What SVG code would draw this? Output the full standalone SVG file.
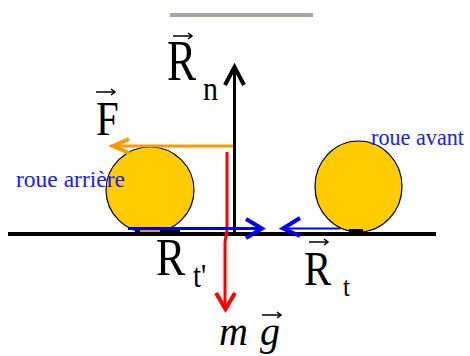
<svg xmlns="http://www.w3.org/2000/svg" width="470" height="356" viewBox="0 0 470 356">
<defs>
  <symbol id="vecarrow" overflow="visible">
    <line x1="0" y1="0" x2="19" y2="0" stroke="#000" stroke-width="1.5"/>
    <polyline points="15,-3 19,0 15,3" fill="none" stroke="#000" stroke-width="1.5"/>
  </symbol>
</defs>
<rect width="470" height="356" fill="#fff"/>
<rect x="170" y="13" width="143" height="4" fill="#a9a598"/>

<g id="wheel-rear">
  <ellipse cx="150" cy="190" rx="44" ry="43" fill="#ffcc00" stroke="#000" stroke-width="1.2"/>
  <rect x="135" y="229" width="45" height="4" fill="#000"/>
  <rect x="140" y="230" width="20" height="2" fill="#e0a000"/>
  <text font-family="Times New Roman" font-size="24" fill="#1a1aff" x="16" y="187" textLength="109" lengthAdjust="spacingAndGlyphs">roue arrière</text>
</g>
<g id="wheel-front">
  <ellipse cx="358.5" cy="186.5" rx="43.5" ry="45.5" fill="#ffcc00" stroke="#000" stroke-width="1.2"/>
  <rect x="349" y="229" width="14" height="4" fill="#000"/>
  <text font-family="Times New Roman" font-size="23" fill="#1a1aff" x="371" y="145" textLength="93" lengthAdjust="spacingAndGlyphs">roue avant</text>
</g>
<g id="ground">
  <line x1="8" y1="234" x2="436" y2="234" stroke="#000" stroke-width="4"/>
</g>

<g id="connectors" fill="none" stroke-width="3">
  <line x1="234.5" y1="70" x2="234.5" y2="234" stroke="#000"/>
  <polyline stroke="#000" stroke-width="4" points="225,85 234.5,67 244,85"/>
  <line x1="233" y1="146" x2="114" y2="146" stroke="#ff9900"/>
  <polyline stroke="#ff9900" stroke-width="4" points="129,139 113,146 129,153"/>
  <polyline points="227,152 227,230 225,242 225,308" stroke="#ff0000"/>
  <polyline stroke="#ff0000" stroke-width="4" points="216,293 225.5,309 235,293"/>
  <line x1="128" y1="228.5" x2="262" y2="228.5" stroke="#0000ff"/>
  <polyline stroke="#0000ff" stroke-width="4" points="246,219 262,228.5 246,238"/>
  <line x1="340" y1="228.5" x2="284" y2="228.5" stroke="#0000ff" stroke-width="2"/>
  <polyline stroke="#0000ff" stroke-width="4" points="300,218 283,228.5 300,236"/>
</g>

<g id="label-Rn">
  <text font-family="Times New Roman" font-size="56" fill="#000" transform="translate(167,80) scale(0.78,1)">R</text>
  <text font-family="Times New Roman" font-size="34" fill="#000" transform="translate(203,100) scale(0.88,1)">n</text>
  <use href="#vecarrow" x="173" y="36"/>
</g>
<g id="label-F">
  <text font-family="Times New Roman" font-size="48" fill="#000" transform="translate(96,135) scale(0.85,1)">F</text>
  <use href="#vecarrow" x="96" y="92"/>
</g>
<g id="label-Rt-prime">
  <text font-family="Times New Roman" font-size="53" fill="#000" transform="translate(156,275) scale(0.83,1)">R</text>
  <text font-family="Times New Roman" font-size="34" fill="#000" transform="translate(193,287) scale(0.85,1)">t'</text>
</g>
<g id="label-Rt">
  <text font-family="Times New Roman" font-size="48" fill="#000" transform="translate(304,285) scale(0.85,1)">R</text>
  <text font-family="Times New Roman" font-size="28" fill="#000" transform="translate(343,296) scale(0.9,1)">t</text>
  <use href="#vecarrow" x="309" y="242"/>
</g>
<g id="label-mg">
  <text font-family="Times New Roman" font-size="40" font-style="italic" fill="#000" x="219" y="345">m</text>
  <text font-family="Times New Roman" font-size="40" font-style="italic" fill="#000" x="260" y="345">g</text>
  <use href="#vecarrow" x="262" y="315"/>
</g>
</svg>
